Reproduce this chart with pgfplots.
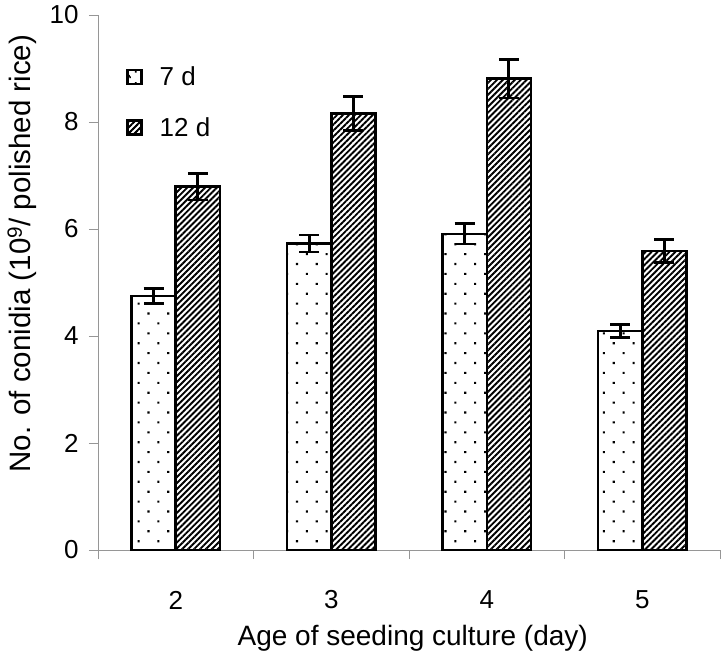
\documentclass[border=0pt]{standalone}
\usepackage{pgfplots}
\pgfplotsset{compat=1.18}
\usepackage{fontspec}
\setmainfont{Liberation Sans}
\usetikzlibrary{patterns.meta}
\definecolor{axgray}{RGB}{150,150,150}
\begin{document}
\begin{tikzpicture}
\begin{axis}[
  scale only axis,
  width=622bp, height=535bp,
  xmin=-0.5, xmax=3.5, ymin=0, ymax=10,
  axis x line*=bottom, axis y line*=left,
  axis line style={axgray, line width=0.8bp, -},
  xtick={0,1,2,3},
  xticklabels={2,3,4,5},
  minor xtick={-0.5,0.5,1.5,2.5,3.5},
  ytick={0,2,4,6,8,10},
  tick align=outside,
  major x tick style={draw=none},
  minor x tick style={axgray, line width=0.8bp},
  major y tick style={axgray, line width=0.8bp},
  major tick length=9bp, minor tick length=9bp,
  /pgf/number format/assume math mode=true,
  tick label style={font=\fontsize{26bp}{30bp}\selectfont},
  xticklabel style={anchor=center, yshift=-41bp},
  yticklabel style={anchor=east, xshift=-7bp},
  xlabel={Age of seeding culture (day)},
  ylabel={No. of conidia (10\textsuperscript{9}/ polished rice)},
  xlabel style={font=\fontsize{28bp}{32bp}\selectfont, at={(axis description cs:0.506,-0.165)}, anchor=center},
  ylabel style={font=\fontsize{29.5bp}{32bp}\selectfont, at={(axis description cs:-0.122,0.554)}, anchor=center},
  ybar, bar width=0.284,
  legend style={draw=none, fill=none, at={(axis description cs:0.045,0.907)}, anchor=north west,
    font=\fontsize{26bp}{30bp}\selectfont, row sep=26bp, inner sep=0pt},
  legend cell align=left,
  error bars/y dir=both, error bars/y explicit,
  error bars/error bar style={line width=2.7bp, black},
  error bars/error mark options={rotate=90, mark size=10bp, line width=2.7bp, black},
]
\addplot[bar shift=-0.142, draw=black, line width=2.5bp, fill=white,
  postaction={pattern={Dots[distance=14bp, angle=45, radius=1.5bp]}, pattern color=black},
  legend image code/.code={\draw[line width=2.5bp, black, fill=white,
    postaction={pattern={Dots[distance=8bp, angle=45, radius=1.2bp]}}] (0bp,-7bp) rectangle (14bp,7bp);
    \path (29bp,0bp);}]
  coordinates {
  (0,4.75) +- (0,0.14)
  (1,5.73) +- (0,0.16)
  (2,5.91) +- (0,0.19)
  (3,4.09) +- (0,0.12)
};
\addlegendentry{7 d}
\addplot[bar shift=0.142, draw=black, line width=2.5bp, fill=white,
  postaction={pattern={Lines[angle=45, distance=4.2bp, line width=1.9bp]}, pattern color=black},
  legend image code/.code={\draw[line width=2.5bp, black, fill=white,
    postaction={pattern={Lines[angle=45, distance=4.2bp, line width=1.5bp]}}] (0bp,-7bp) rectangle (14bp,7bp);
    \path (22bp,0bp);}]
  coordinates {
  (0,6.79) +- (0,0.25)
  (1,8.16) +- (0,0.32)
  (2,8.81) +- (0,0.36)
  (3,5.59) +- (0,0.22)
};
\addlegendentry{12 d}
\end{axis}
\pgfresetboundingbox
\path (current axis.south west) ++(-98bp,-110bp) rectangle ++(722bp,660bp);
\end{tikzpicture}
\end{document}
